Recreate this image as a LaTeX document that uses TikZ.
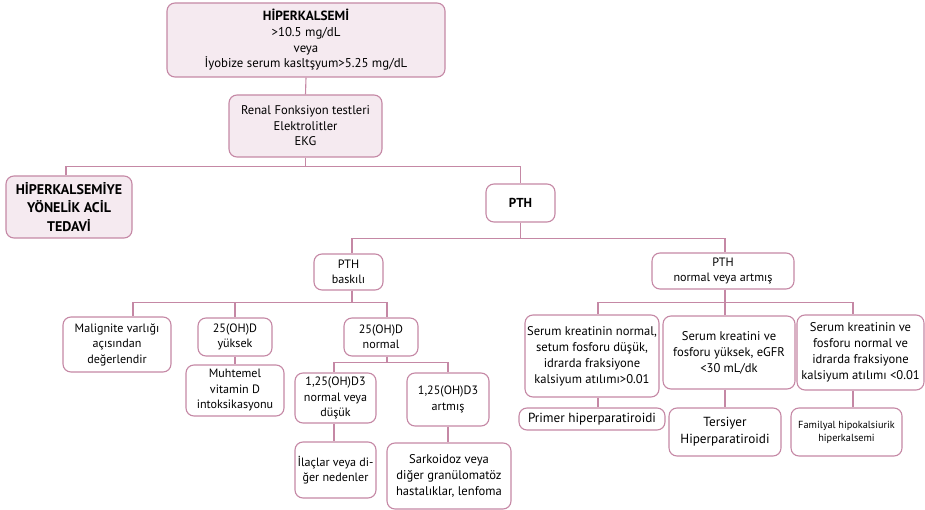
\documentclass[tikz,border=0pt]{standalone}
\usepackage{fontspec}
\setmainfont{PT Sans}
\definecolor{edge}{HTML}{C588A5}
\definecolor{pinkfill}{HTML}{F5EAF0}
\tikzset{
  box/.style={draw=edge, line width=1.1pt, rounded corners=8pt, fill=white,
    align=center, inner sep=0pt, font=\fontsize{12.1}{15.5}\selectfont},
  tinted/.style={box, fill=pinkfill},
  link/.style={draw=edge, line width=1.1pt},
  big/.style={font=\fontsize{12.6}{16}\selectfont},
}
\begin{document}
\begin{tikzpicture}[x=1pt,y=-1pt]
\useasboundingbox (0,0) rectangle (925,510);

% top of the tree
\node[tinted, minimum width=278pt, minimum height=74pt, font=\fontsize{12.8}{15.6}\selectfont] (hk) at (306,40)
  {{\fontsize{13.3}{15.6}\selectfont\bfseries HİPERKALSEMİ}\\>10.5 mg/dL\\veya\\İyobize serum kasltşyum>5.25 mg/dL};
\node[tinted, minimum width=153pt, minimum height=62pt, font=\fontsize{12.6}{15.6}\selectfont] (renal) at (305.5,126)
  {Renal Fonksiyon testleri\\Elektrolitler\\EKG};
\node[tinted, minimum width=126pt, minimum height=62pt, font=\bfseries\fontsize{14}{18.5}\selectfont] (acil) at (69,207)
  {HİPERKALSEMİYE\\YÖNELİK ACİL\\TEDAVİ};
\node[box, minimum width=69pt, minimum height=38pt, font=\bfseries\fontsize{13}{14}\selectfont] (pth) at (520.5,203) {PTH};

% second level
\node[box, minimum width=69pt, minimum height=36pt] (bask) at (348.5,272) {PTH\\baskılı};
\node[box, minimum width=142pt, minimum height=36pt] (nart) at (723,271) {PTH\\normal veya artmış};

% suppressed PTH branch
\node[box, minimum width=108pt, minimum height=55pt] (malig) at (117,344.5) {Malignite varlığı\\açısından\\değerlendir};
\node[box, minimum width=74pt, minimum height=38pt] (dyuk) at (235,337) {25(OH)D\\yüksek};
\node[box, minimum width=74pt, minimum height=38pt] (dnor) at (381,337) {25(OH)D\\normal};
\node[box, minimum width=98pt, minimum height=51pt] (muht) at (235,390.5) {Muhtemel\\vitamin D\\intoksikasyonu};
\node[box, minimum width=81pt, minimum height=50pt] (dtnd) at (335.5,398) {1,25(OH)D3\\normal veya\\düşük};
\node[box, minimum width=82pt, minimum height=53pt] (dtart) at (448,399.5) {1,25(OH)D3\\artmış};
\node[box, minimum width=81pt, minimum height=56pt] (ilac) at (335.5,470) {İlaçlar veya di-\\ğer nedenler};
\node[box, minimum width=124pt, minimum height=66pt, big] (sark) at (449,476) {Sarkoidoz veya\\diğer granülomatöz\\hastalıklar, lenfoma};

% normal or raised PTH branch
\node[box, minimum width=134pt, minimum height=82pt, big] (sk1) at (592,356)
  {Serum kreatinin normal,\\setum fosforu düşük,\\idrarda fraksiyone\\kalsiyum atılımı>0.01};
\node[box, minimum width=132pt, minimum height=73pt, big] (sk2) at (729,352.5)
  {Serum kreatini ve\\fosforu yüksek, eGFR\\<30 mL/dk};
\node[box, minimum width=127pt, minimum height=75pt, big] (sk3) at (860.5,352.5)
  {Serum kreatinin ve\\fosforu normal ve\\idrarda fraksiyone\\kalsiyum atılımı <0.01};
\node[box, minimum width=146pt, minimum height=22pt, font=\fontsize{13.2}{16}\selectfont] (prim) at (592,419) {Primer hiperparatiroidi};
\node[box, minimum width=112pt, minimum height=48pt, font=\fontsize{13.2}{17}\selectfont] (ters) at (725,432) {Tersiyer\\Hiperparatiroidi};
\node[box, minimum width=111pt, minimum height=48pt, font=\fontsize{10.3}{13}\selectfont] (fam) at (846.5,432)
  {Familyal hipokalsiurik\\hiperkalsemi};

% connectors
\draw[link] (hk.south) -- (renal.north);
\draw[link] (renal.south) -- ++(0,9) -| ([xshift=-3pt]acil.north);
\draw[link] (renal.south) -- ++(0,9) -| (pth.north);
\draw[link] (pth.south) -- ++(0,16) -| ([xshift=3.5pt]bask.north);
\draw[link] (pth.south) -- ++(0,16) -| ([xshift=2pt]nart.north);
\draw[link] ([xshift=3.5pt]bask.south) -- ++(0,12) -| ([xshift=16pt]malig.north);
\draw[link] ([xshift=3.5pt]bask.south) -- ++(0,12) -| (dyuk.north);
\draw[link] ([xshift=3.5pt]bask.south) -- ++(0,12) -| ([xshift=6pt]dnor.north);
\draw[link] (dyuk.south) -- (muht.north);
\draw[link] ([xshift=6pt]dnor.south) -- ++(0,6) -| ([xshift=-1.5pt]dtnd.north);
\draw[link] ([xshift=6pt]dnor.south) -- ++(0,6) -| (dtart.north);
\draw[link] ([xshift=-1.5pt]dtnd.south) -- ([xshift=-1.5pt]ilac.north);
\draw[link] (dtart.south) -- ([xshift=-1pt]sark.north);
\draw[link] ([xshift=2pt]nart.south) -- ++(0,13) -| ([xshift=6pt]sk1.north);
\draw[link] ([xshift=2pt]nart.south) -- ++(0,13) -| ([xshift=-4pt]sk2.north);
\draw[link] ([xshift=2pt]nart.south) -- ++(0,13) -| ([xshift=-7.5pt]sk3.north);
\draw[link] ([xshift=6pt]sk1.south) -- ([xshift=6pt]prim.north);
\draw[link] ([xshift=-4pt]sk2.south) -- (ters.north);
\draw[link] ([xshift=-7.5pt]sk3.south) -- ([xshift=6.5pt]fam.north);
\end{tikzpicture}
\end{document}
